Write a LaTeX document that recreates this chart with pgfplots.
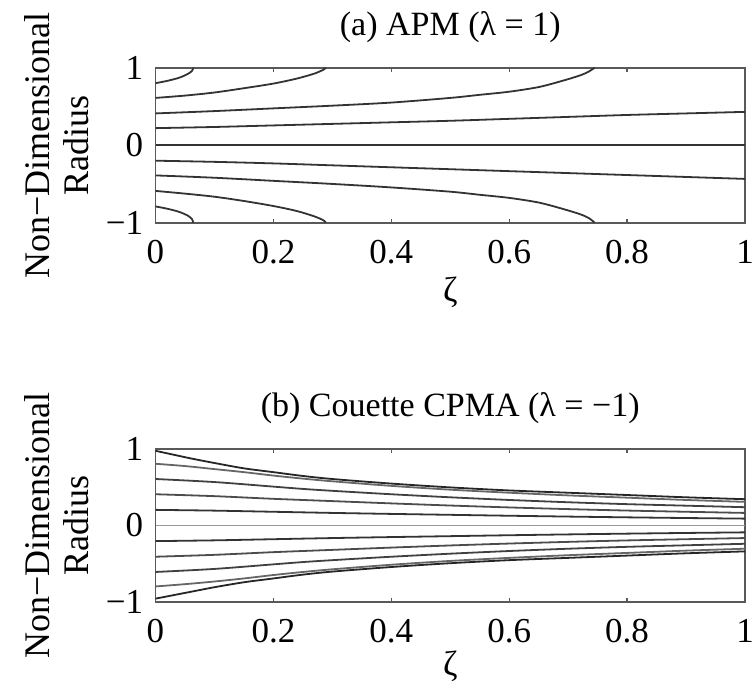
\documentclass[border=0pt]{standalone}
\usepackage{fontspec}
\setmainfont{Liberation Serif}
\usepackage{pgfplots}
\pgfplotsset{compat=1.18}

% 1 px of the reference = 0.5pt
\pgfplotsset{
  every axis title shift=0pt,
  panel/.style={
    scale only axis,
    width=294.75pt,
    xmin=0, xmax=1, ymin=-1, ymax=1,
    xtick={0,0.2,0.4,0.6,0.8,1},
    xticklabels={0,0.2,0.4,0.6,0.8,1},
    ytick={-1,0,1},
    yticklabels={−1,0,1},
    tick align=inside,
    major tick length=2pt,
    axis line style={black!65, line width=0.9pt},
    every tick/.style={black!65, line width=0.7pt},
    tick label style={font=\fontsize{17.5}{19.5}\selectfont, inner sep=0pt},
    xticklabel style={anchor=base, yshift=-20.5pt},
    yticklabel style={anchor=east, xshift=-6pt},
    title style={at={(axis description cs:0.5,1)}, anchor=base, yshift=16.2pt,
      inner sep=0pt, font=\fontsize{17}{19}\selectfont},
    xlabel={ζ},
    xlabel style={at={(axis description cs:0.5,0)}, anchor=base,
      inner sep=0pt, font=\fontsize{17.5}{19.5}\selectfont},
    ylabel={Non−Dimensional\\Radius},
    ylabel style={at={(axis description cs:-0.1684,0.5)}, anchor=center,
      inner sep=0pt, align=center, font=\fontsize{18}{19.5}\selectfont},
    clip=true,
  },
  ca/.style={black!80, line width=0.9pt, smooth},
}

\begin{document}
\begin{tikzpicture}
\useasboundingbox (0,0) rectangle (378pt,344.5pt);

% ---------------- (a) APM ----------------
\begin{axis}[panel, height=77.5pt,
  at={(77.75pt,233.15pt)}, anchor=south west,
  title={(a) APM (λ = 1)},
  xlabel style={yshift=-39.5pt},
]
  \addplot[ca] coordinates {(0,0.8)(0.02,0.83)(0.04,0.87)(0.055,0.92)(0.062,0.96)(0.064,1.0)};
  \addplot[ca] coordinates {(0,0.61)(0.05,0.64)(0.1,0.68)(0.15,0.735)(0.2,0.795)(0.24,0.86)(0.27,0.925)(0.285,0.975)(0.289,1.0)};
  \addplot[ca] coordinates {(0,0.41)(0.1,0.44)(0.2,0.475)(0.3,0.51)(0.4,0.55)(0.5,0.61)(0.55,0.65)(0.6,0.69)(0.65,0.75)(0.69,0.83)(0.72,0.9)(0.735,0.95)(0.745,1.0)};
  \addplot[ca] coordinates {(0,0.22)(0.1,0.235)(0.2,0.255)(0.3,0.275)(0.4,0.295)(0.5,0.315)(0.6,0.34)(0.7,0.365)(0.8,0.39)(0.9,0.41)(1,0.43)};
  \addplot[ca] coordinates {(0,0)(1,0)};
  \addplot[ca] coordinates {(0,-0.2)(0.1,-0.215)(0.2,-0.235)(0.3,-0.26)(0.4,-0.285)(0.5,-0.31)(0.6,-0.335)(0.7,-0.36)(0.8,-0.385)(0.9,-0.41)(1,-0.435)};
  \addplot[ca] coordinates {(0,-0.39)(0.1,-0.42)(0.2,-0.46)(0.3,-0.5)(0.4,-0.545)(0.5,-0.6)(0.55,-0.64)(0.6,-0.68)(0.65,-0.74)(0.69,-0.82)(0.72,-0.89)(0.735,-0.94)(0.745,-1.0)};
  \addplot[ca] coordinates {(0,-0.59)(0.05,-0.625)(0.1,-0.665)(0.15,-0.72)(0.2,-0.785)(0.24,-0.85)(0.27,-0.92)(0.285,-0.97)(0.289,-1.0)};
  \addplot[ca] coordinates {(0,-0.79)(0.02,-0.82)(0.04,-0.86)(0.055,-0.91)(0.062,-0.955)(0.064,-1.0)};
\end{axis}

% ---------------- (b) Couette CPMA ----------------
\begin{axis}[panel, height=76.2pt,
  at={(77.75pt,43.65pt)}, anchor=south west,
  title={(b) Couette CPMA (λ = −1)},
  xlabel style={yshift=-37pt},
]
  \addplot[black!85, line width=0.9pt, smooth] coordinates {(0,0.98)(0.03,0.93)(0.06,0.88)(0.1,0.82)(0.15,0.75)(0.2,0.70)(0.25,0.65)(0.3,0.61)(0.4,0.55)(0.5,0.50)(0.6,0.46)(0.7,0.43)(0.8,0.40)(0.9,0.37)(1,0.345)};
  \addplot[black!60, line width=0.9pt, smooth] coordinates {(0,0.81)(0.05,0.78)(0.1,0.74)(0.15,0.70)(0.2,0.655)(0.25,0.615)(0.3,0.58)(0.4,0.52)(0.5,0.47)(0.6,0.43)(0.7,0.395)(0.8,0.365)(0.9,0.335)(1,0.31)};
  \addplot[black!75, line width=0.9pt, smooth] coordinates {(0,0.61)(0.1,0.57)(0.2,0.51)(0.25,0.48)(0.3,0.455)(0.4,0.41)(0.5,0.37)(0.6,0.335)(0.7,0.305)(0.8,0.28)(0.9,0.26)(1,0.24)};
  \addplot[black!70, line width=0.9pt, smooth] coordinates {(0,0.41)(0.1,0.385)(0.2,0.35)(0.3,0.32)(0.4,0.29)(0.5,0.262)(0.6,0.237)(0.7,0.215)(0.8,0.196)(0.9,0.18)(1,0.165)};
  \addplot[black!80, line width=0.9pt, smooth] coordinates {(0,0.205)(0.1,0.195)(0.2,0.18)(0.3,0.165)(0.4,0.152)(0.5,0.14)(0.6,0.128)(0.7,0.117)(0.8,0.107)(0.9,0.098)(1,0.09)};
  \addplot[black!40, line width=0.9pt] coordinates {(0,0)(1,0)};
  \addplot[black!80, line width=0.9pt, smooth] coordinates {(0,-0.205)(0.1,-0.195)(0.2,-0.18)(0.3,-0.165)(0.4,-0.152)(0.5,-0.14)(0.6,-0.128)(0.7,-0.117)(0.8,-0.107)(0.9,-0.098)(1,-0.09)};
  \addplot[black!70, line width=0.9pt, smooth] coordinates {(0,-0.41)(0.1,-0.385)(0.2,-0.35)(0.3,-0.32)(0.4,-0.29)(0.5,-0.262)(0.6,-0.237)(0.7,-0.215)(0.8,-0.196)(0.9,-0.18)(1,-0.165)};
  \addplot[black!75, line width=0.9pt, smooth] coordinates {(0,-0.61)(0.1,-0.57)(0.2,-0.51)(0.25,-0.48)(0.3,-0.455)(0.4,-0.41)(0.5,-0.37)(0.6,-0.335)(0.7,-0.305)(0.8,-0.28)(0.9,-0.26)(1,-0.24)};
  \addplot[black!60, line width=0.9pt, smooth] coordinates {(0,-0.8)(0.05,-0.77)(0.1,-0.735)(0.15,-0.695)(0.2,-0.65)(0.25,-0.61)(0.3,-0.575)(0.4,-0.515)(0.5,-0.465)(0.6,-0.425)(0.7,-0.39)(0.8,-0.36)(0.9,-0.33)(1,-0.305)};
  \addplot[black!85, line width=0.9pt, smooth] coordinates {(0,-0.96)(0.03,-0.915)(0.06,-0.87)(0.1,-0.81)(0.15,-0.745)(0.2,-0.695)(0.25,-0.645)(0.3,-0.605)(0.4,-0.545)(0.5,-0.495)(0.6,-0.455)(0.7,-0.425)(0.8,-0.395)(0.9,-0.365)(1,-0.34)};
\end{axis}
\end{tikzpicture}
\end{document}
